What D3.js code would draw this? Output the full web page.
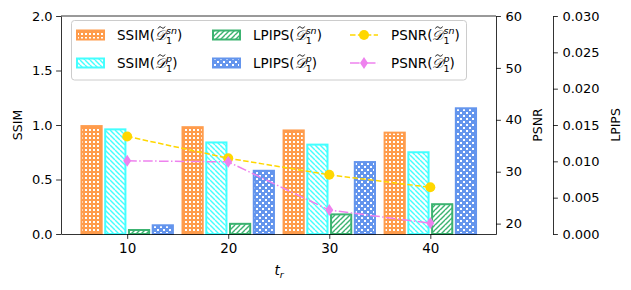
<!DOCTYPE html>
<html>
<head>
<meta charset="utf-8">
<script src="https://cdn.jsdelivr.net/npm/d3@7"></script>
<style>
  body { margin: 0; background: #fff; }
  svg { font-family: "DejaVu Sans", sans-serif; }
</style>
</head>
<body>
<svg width="631" height="290"></svg>
<script>
const svg = d3.select("svg");

// datos
const tr = [10, 20, 30, 40];
const ssimSn = [0.99, 0.98, 0.95, 0.93];
const ssimP = [0.96, 0.84, 0.82, 0.75];
const lpipsSn = [0.00055, 0.0014, 0.0027, 0.0041];
const lpipsP = [0.0012, 0.0087, 0.0099, 0.0173];
const psnrSn = [36.8, 32.6, 29.4, 27.0];
const psnrP = [32.1, 31.9, 22.6, 20.1];
const ssimTicks = [0, 0.5, 1.0, 1.5, 2.0];
const psnrTicks = [20, 30, 40, 50, 60];
const lpipsTicks = [0, 0.005, 0.01, 0.015, 0.02, 0.025, 0.03];

const L = 61, R = 496, T = 16, B = 234;
const x = d3.scaleLinear().domain([3.45, 46.5]).range([L, R]);
const ySsim = d3.scaleLinear().domain([0, 2]).range([B, T]);
const yPsnr = d3.scaleLinear().domain([18, 60]).range([B, T]);
const yLpips = d3.scaleLinear().domain([0, 0.03]).range([B, T]);

const colores = {
  orange: "#ff9c4c", cyan: "#44ffff", green: "#3cb371", blue: "#6495ed",
  gold: "#ffd700", violet: "#ee82ee"
};

// patrones de relleno (hatch)
const defs = svg.append("defs");
function patronPuntos(id, color, tam, cuadros) {
  const p = defs.append("pattern").attr("id", id).attr("patternUnits", "userSpaceOnUse")
    .attr("width", tam).attr("height", tam);
  p.append("rect").attr("width", tam).attr("height", tam).attr("fill", color);
  cuadros.forEach(c => p.append("rect").attr("x", c[0]).attr("y", c[1])
    .attr("width", c[2]).attr("height", c[3]).attr("fill", "#fff"));
}
function patronLineas(id, color, tam, dir) {
  const p = defs.append("pattern").attr("id", id).attr("patternUnits", "userSpaceOnUse")
    .attr("width", tam).attr("height", tam);
  p.append("rect").attr("width", tam).attr("height", tam).attr("fill", "#fff");
  const segs = dir > 0
    ? [[0, tam, tam, 0], [-tam, tam, 0, 0], [0, 2 * tam, tam * 2, 0]]
    : [[0, 0, tam, tam], [-tam, 0, 0, tam], [tam, 0, 2 * tam, tam]];
  segs.forEach(s => p.append("line").attr("x1", s[0]).attr("y1", s[1]).attr("x2", s[2]).attr("y2", s[3])
    .attr("stroke", color).attr("stroke-width", 1.4));
}
patronPuntos("hOrange", colores.orange, 4, [[1, 1, 2, 2]]);
patronLineas("hCyan", colores.cyan, 5, -1);
patronLineas("hGreen", colores.green, 5, 1);
patronPuntos("hBlue", colores.blue, 6, [[1, 1, 2, 2], [4, 4, 2, 2]]);

// barras
const bw = 2.0, paso = 2.35;
const series = [
  { vals: ssimSn, y: ySsim, color: colores.orange, fill: "url(#hOrange)" },
  { vals: ssimP, y: ySsim, color: colores.cyan, fill: "url(#hCyan)" },
  { vals: lpipsSn, y: yLpips, color: colores.green, fill: "url(#hGreen)" },
  { vals: lpipsP, y: yLpips, color: colores.blue, fill: "url(#hBlue)" }
];
series.forEach((s, k) => {
  const off = (k - 1.5) * paso;
  svg.append("g").selectAll("rect").data(s.vals).enter().append("rect")
    .attr("x", (d, i) => x(tr[i] + off - bw / 2))
    .attr("width", x(bw) - x(0))
    .attr("y", d => s.y(d))
    .attr("height", d => B - s.y(d))
    .attr("fill", s.fill)
    .attr("stroke", s.color)
    .attr("stroke-width", 2);
});

// líneas PSNR
function dibujarLinea(vals, color, dash, marcador) {
  const line = d3.line().x((d, i) => x(tr[i])).y(d => yPsnr(d));
  svg.append("path").datum(vals).attr("d", line).attr("fill", "none")
    .attr("stroke", color).attr("stroke-width", 1.5).attr("stroke-dasharray", dash);
  svg.append("g").selectAll("path").data(vals).enter().append("path")
    .attr("transform", (d, i) => `translate(${x(tr[i])},${yPsnr(d)})`)
    .attr("d", marcador).attr("fill", color);
}
const circulo = d3.symbol().type(d3.symbolCircle).size(78)();
const diamante = "M0,-6L4,0L0,6L-4,0Z";
dibujarLinea(psnrSn, colores.gold, "5.5,2.4", circulo);
dibujarLinea(psnrP, colores.violet, "9.6,2.4,1.5,2.4", diamante);

// ejes
function estiloEje(g, size) {
  g.selectAll("text").attr("font-size", size).attr("fill", "#000").attr("font-family", "DejaVu Sans");
  g.selectAll("line").attr("stroke", "#000").attr("stroke-width", 0.8);
  g.select(".domain").attr("stroke", "#000").attr("stroke-width", 0.8);
}
svg.append("g").attr("transform", `translate(0,${B})`)
  .call(d3.axisBottom(x).tickValues(tr).tickSize(4.9).tickPadding(5).tickSizeOuter(0))
  .call(g => estiloEje(g, 13.5));
svg.append("g").attr("transform", `translate(${L},0)`)
  .call(d3.axisLeft(ySsim).tickValues(ssimTicks).tickFormat(d3.format(".1f")).tickSize(4.9).tickPadding(3.5).tickSizeOuter(0))
  .call(g => estiloEje(g, 13));
svg.append("g").attr("transform", `translate(${R},0)`)
  .call(d3.axisRight(yPsnr).tickValues(psnrTicks).tickSize(4.9).tickPadding(4.5).tickSizeOuter(0))
  .call(g => estiloEje(g, 13));
svg.append("g").attr("transform", "translate(553,0)")
  .call(d3.axisRight(yLpips).tickValues(lpipsTicks).tickFormat(d3.format(".3f")).tickSize(4.9).tickPadding(4.5).tickSizeOuter(0))
  .call(g => estiloEje(g, 13));
svg.append("line").attr("x1", L).attr("x2", R).attr("y1", T).attr("y2", T)
  .attr("stroke", "#000").attr("stroke-width", 0.8);

// títulos de ejes
function tituloVertical(texto, cx) {
  svg.append("text").attr("transform", `translate(${cx},${(T + B) / 2}) rotate(-90)`)
    .attr("text-anchor", "middle").attr("font-size", 12.5).text(texto);
}
tituloVertical("SSIM", 21.5);
tituloVertical("PSNR", 541.5);
tituloVertical("LPIPS", 619.5);
const tx = svg.append("text").attr("x", 279).attr("y", 275).attr("font-size", 13.5).attr("text-anchor", "middle");
tx.append("tspan").attr("font-style", "italic").text("t");
tx.append("tspan").attr("font-style", "italic").attr("font-size", 9.5).attr("dy", 3).text("r");

// leyenda
const ley = svg.append("g");
ley.append("rect").attr("x", 71.5).attr("y", 20.5).attr("width", 395).attr("height", 59.5)
  .attr("rx", 3).attr("fill", "#fff").attr("fill-opacity", 0.8).attr("stroke", "#cccccc");
function etiqueta(g, xx, yy, nombre, sup) {
  const t = g.append("text").attr("x", xx).attr("y", yy + 5).attr("font-size", 13.5);
  t.append("tspan").text(nombre + "(");
  const dT = t.append("tspan").attr("font-style", "italic").attr("font-family", "DejaVu Serif").text("𝒟");
  t.append("tspan").attr("font-size", 9.5).attr("dy", 4).text("1");
  t.append("tspan").attr("font-size", 9.5).attr("font-style", "italic").attr("dx", -6).attr("dy", -10).text(sup);
  t.append("tspan").attr("dy", 6).text(")");
  // tilde sobre la D
  const inicio = t.node().getStartPositionOfChar(nombre.length + 1).x;
  const ancho = dT.node().getComputedTextLength();
  const cx = inicio + ancho / 2 + 1;
  g.append("path")
    .attr("transform", `translate(${cx},${yy + 5 - 12.5})`)
    .attr("d", "M-3.5,1 C-2.5,-1.2 -1,-1 0,0 C1,1 2.5,1.2 3.5,-1")
    .attr("fill", "none").attr("stroke", "#000").attr("stroke-width", 0.9);
}
const filasY = [35, 63];
const items = [
  { tipo: "bar", col: 0, fila: 0, s: series[0], nombre: "SSIM", sup: "sn" },
  { tipo: "bar", col: 0, fila: 1, s: series[1], nombre: "SSIM", sup: "p" },
  { tipo: "bar", col: 1, fila: 0, s: series[2], nombre: "LPIPS", sup: "sn" },
  { tipo: "bar", col: 1, fila: 1, s: series[3], nombre: "LPIPS", sup: "p" },
  { tipo: "line", col: 2, fila: 0, color: colores.gold, dash: "5.5,2.4", m: circulo, nombre: "PSNR", sup: "sn" },
  { tipo: "line", col: 2, fila: 1, color: colores.violet, dash: "9.6,2.4,1.5,2.4", m: diamante, nombre: "PSNR", sup: "p" }
];
const colX = [76, 212, 350];
items.forEach(it => {
  const x0 = colX[it.col], y0 = filasY[it.fila];
  if (it.tipo === "bar") {
    ley.append("rect").attr("x", x0 + 1).attr("y", y0 - 4.5).attr("width", 27).attr("height", 9)
      .attr("fill", it.s.fill).attr("stroke", it.s.color).attr("stroke-width", 2);
  } else {
    ley.append("line").attr("x1", x0).attr("x2", x0 + 28).attr("y1", y0).attr("y2", y0)
      .attr("stroke", it.color).attr("stroke-width", 1.5).attr("stroke-dasharray", it.dash);
    ley.append("path").attr("transform", `translate(${x0 + 14},${y0})`).attr("d", it.m).attr("fill", it.color);
  }
  etiqueta(ley, x0 + 41, y0, it.nombre, it.sup);
});
</script>
</body>
</html>
